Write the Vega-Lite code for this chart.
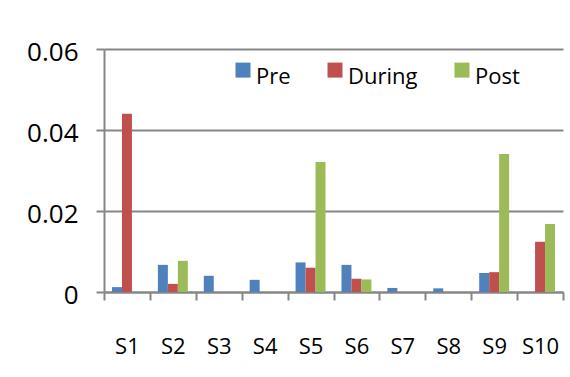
{
  "$schema": "https://vega.github.io/schema/vega-lite/v6.json",
  "width": 459,
  "height": 243,
  "autosize": "none",
  "padding": {"left": 104, "top": 49, "right": 7, "bottom": 85},
  "background": "white",
  "config": {
    "view": {"stroke": null},
    "font": "Open Sans",
    "axis": {
      "domainColor": "#868686",
      "domainWidth": 2,
      "tickColor": "#868686",
      "tickWidth": 2,
      "tickSize": 8,
      "gridColor": "#868686",
      "gridWidth": 2,
      "labelColor": "#000000",
      "labelFont": "Open Sans",
      "title": null
    }
  },
  "data": {
    "values": [
      {"site": "S1", "phase": "Pre", "value": 0.0012},
      {"site": "S1", "phase": "During", "value": 0.044},
      {"site": "S2", "phase": "Pre", "value": 0.0067},
      {"site": "S2", "phase": "During", "value": 0.0020},
      {"site": "S2", "phase": "Post", "value": 0.0077},
      {"site": "S3", "phase": "Pre", "value": 0.0040},
      {"site": "S4", "phase": "Pre", "value": 0.0030},
      {"site": "S5", "phase": "Pre", "value": 0.0073},
      {"site": "S5", "phase": "During", "value": 0.0060},
      {"site": "S5", "phase": "Post", "value": 0.0321},
      {"site": "S6", "phase": "Pre", "value": 0.0067},
      {"site": "S6", "phase": "During", "value": 0.0033},
      {"site": "S6", "phase": "Post", "value": 0.0031},
      {"site": "S7", "phase": "Pre", "value": 0.0010},
      {"site": "S8", "phase": "Pre", "value": 0.0009},
      {"site": "S9", "phase": "Pre", "value": 0.0047},
      {"site": "S9", "phase": "During", "value": 0.0049},
      {"site": "S9", "phase": "Post", "value": 0.0341},
      {"site": "S10", "phase": "During", "value": 0.0124},
      {"site": "S10", "phase": "Post", "value": 0.0168}
    ]
  },
  "mark": {"type": "bar"},
  "encoding": {
    "x": {
      "field": "site",
      "type": "nominal",
      "sort": ["S1", "S2", "S3", "S4", "S5", "S6", "S7", "S8", "S9", "S10"],
      "scale": {"paddingInner": 0, "paddingOuter": 0},
      "axis": {
        "labelAngle": 0,
        "labelFontSize": 22,
        "labelPadding": 36,
        "tickBand": "extent",
        "grid": false
      }
    },
    "xOffset": {
      "field": "phase",
      "type": "nominal",
      "sort": ["Pre", "During", "Post"],
      "scale": {"paddingInner": 0, "paddingOuter": 0.8}
    },
    "y": {
      "field": "value",
      "type": "quantitative",
      "scale": {"domain": [0, 0.06], "nice": false},
      "axis": {
        "values": [0, 0.02, 0.04, 0.06],
        "format": ".2~f",
        "labelFontSize": 26,
        "labelPadding": 18,
        "labelOffset": 3,
        "grid": true
      }
    },
    "color": {
      "field": "phase",
      "type": "nominal",
      "sort": ["Pre", "During", "Post"],
      "scale": {"domain": ["Pre", "During", "Post"], "range": ["#4F81BD", "#C0504D", "#9BBB59"]},
      "legend": {
        "title": null,
        "orient": "none",
        "direction": "horizontal",
        "legendX": 128,
        "legendY": 17,
        "padding": 0,
        "symbolType": "M-1,-1.92H1V0.08H-1Z",
        "symbolSize": 225,
        "symbolStrokeWidth": 0,
        "symbolOpacity": 1,
        "labelFontSize": 22,
        "labelColor": "#000000",
        "labelOffset": 2,
        "labelBaseline": "middle",
        "columnPadding": 33
      }
    }
  }
}
